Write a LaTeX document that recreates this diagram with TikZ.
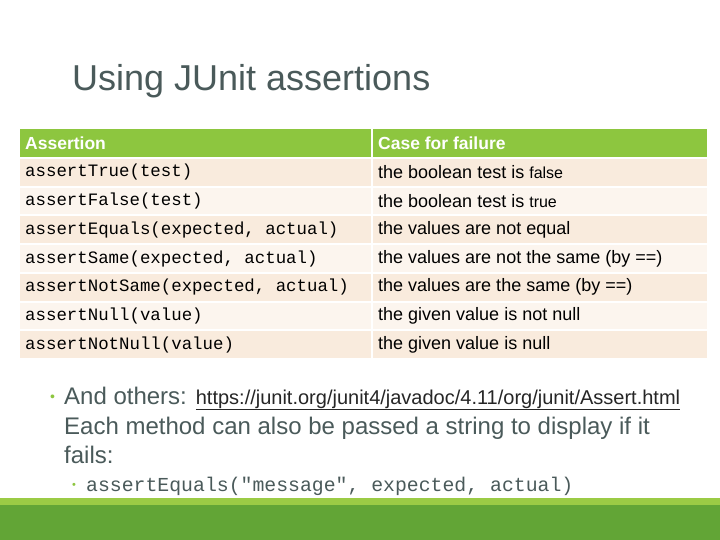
\documentclass[tikz,border=0pt]{standalone}
\usepackage{fontspec}
\setmainfont{Liberation Sans}
\setmonofont{Liberation Mono}
\definecolor{hdr}{HTML}{8DC63F}
\definecolor{rowa}{HTML}{F9EBDD}
\definecolor{rowb}{HTML}{FCF5EE}
\definecolor{dkg}{HTML}{62A536}
\definecolor{ltg}{HTML}{9BCB45}
\definecolor{ttl}{HTML}{4A5A5A}
\definecolor{bul}{HTML}{8DC63F}
\begin{document}
\begin{tikzpicture}[x=1pt,y=-1pt,
  cell/.style={anchor=west,inner sep=0pt},
  mono/.style={cell,font=\fontsize{17.4}{20}\ttfamily},
  txt/.style={cell,font=\fontsize{18}{20}\selectfont}]
\useasboundingbox (0,0) rectangle (720,540);
\fill[white] (0,0) rectangle (720,540);
\fill[ltg] (0,498) rectangle (720,505);
\fill[dkg] (0,505) rectangle (720,540);
\node[cell,anchor=base west,text=ttl,font=\fontsize{36}{42}\selectfont] (title) at (72,91) {Using JUnit assertions};
% table
\fill[hdr] (20,129) rectangle (371,157);
\fill[hdr] (373,129) rectangle (707,157);
\node[cell,text=white,font=\fontsize{17.5}{20}\bfseries] (h1) at (25,143) {Assertion};
\node[cell,text=white,font=\fontsize{17.5}{20}\bfseries] (h2) at (378,143) {Case for failure};
\foreach \i/\a/\b [count=\k] in {
 0/{assertTrue(test)}/{the boolean test is {\fontsize{16}{18}\selectfont false}},
 1/{assertFalse(test)}/{the boolean test is {\fontsize{16}{18}\selectfont true}},
 2/{assertEquals(expected, actual)}/{the values are not equal},
 3/{assertSame(expected, actual)}/{the values are not the same (by ==)},
 4/{assertNotSame(expected, actual)}/{the values are the same (by ==)},
 5/{assertNull(value)}/{the given value is not null},
 6/{assertNotNull(value)}/{the given value is null}} {
  \pgfmathsetmacro\yt{159+\i*28.7}
  \pgfmathsetmacro\yb{\yt+26.7}
  \pgfmathsetmacro\ym{\yt+13.5}
  \pgfmathparse{mod(\i,2)==0?"rowa":"rowb"}\edef\rc{\pgfmathresult}
  \fill[\rc] (20,\yt) rectangle (371,\yb);
  \fill[\rc] (373,\yt) rectangle (707,\yb);
  \node[mono] (a\k) at (25,\ym) {\a};
  \node[txt] (b\k) at (378,\ym) {\b};
}
% bullets
\node[cell,text=bul,font=\fontsize{14}{16}\selectfont] (d1) at (50,398) {•};
\node[cell,anchor=base west,text=ttl,font=\fontsize{24}{27}\selectfont] (l1) at (64,404) {And others: \textcolor{black!85}{\fontsize{20}{22}\selectfont\underline{https://junit.org/junit4/javadoc/4.11/org/junit/Assert.html}}};
\node[cell,anchor=base west,text=ttl,font=\fontsize{24}{27}\selectfont] (l2) at (64,434) {Each method can also be passed a string to display if it};
\node[cell,anchor=base west,text=ttl,font=\fontsize{24}{27}\selectfont] (l3) at (64,463) {fails:};
\node[cell,text=bul,font=\fontsize{11}{13}\selectfont] (d2) at (72,486) {•};
\node[cell,anchor=base west,text=ttl,font=\fontsize{19.8}{22}\ttfamily] (l4) at (86,491) {assertEquals("message", expected, actual)};
\end{tikzpicture}
\end{document}
